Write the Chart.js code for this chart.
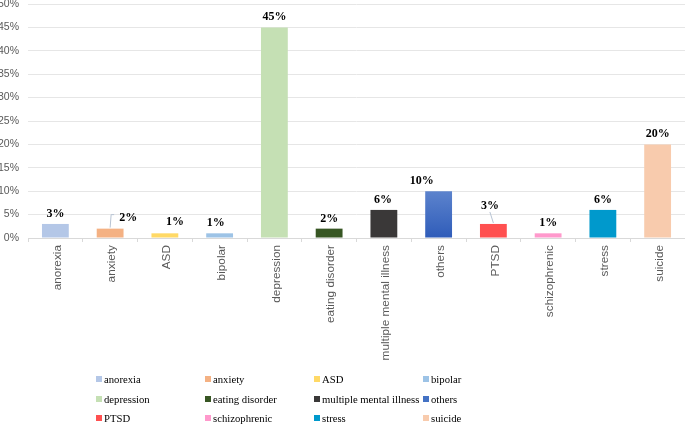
<!DOCTYPE html>
<html>
<head>
<meta charset="utf-8">
<script src="https://cdn.jsdelivr.net/npm/chart.js@4.4.1/dist/chart.umd.min.js"></script>
<style>
  body { margin: 0; background: #fff; }
  #wrap { position: relative; width: 685px; height: 425px; overflow: hidden; }
  #legend {
    position: absolute; left: 96px; top: 370px;
    display: grid; grid-template-columns: repeat(4, 109px);
    font: 10.7px "Liberation Serif", "Times New Roman", serif; color: #000;
  }
  #legend .item { height: 19.5px; line-height: 19.5px; white-space: nowrap; }
  #legend .box { display: inline-block; width: 6px; height: 6px; margin-right: 2px; vertical-align: 1px; }
</style>
</head>
<body>
<div id="wrap">
  <canvas id="barChart" width="685" height="425"></canvas>
  <div id="legend"></div>
</div>
<script>
const categories = ["anorexia", "anxiety", "ASD", "bipolar", "depression", "eating disorder",
  "multiple mental illness", "others", "PTSD", "schizophrenic", "stress", "suicide"];
const shares = [3, 2, 1, 1, 45, 2, 6, 10, 3, 1, 6, 20];
const yTicks = [0, 5, 10, 15, 20, 25, 30, 35, 40, 45, 50];

const barColors = ["#B4C7E7", "#F4B183", "#FFD966", "#9DC3E6", "#C5E0B4", "#375623",
  "#3A3838", "#4472C4", "#FF5050", "#FF99CC", "#0099CC", "#F8CBAD"];

// label nudges, like the hand-moved labels in the original
const labelShift = { 1: [18, -1], 2: [10, -1], 3: [-4, 0], 6: [-1, 0], 7: [-17, 0], 8: [-3.5, -8] };
const leaderLines = [1, 8];

const othersFill = (ctx) => {
  const chart = ctx.chart;
  const y = chart.scales.y;
  if (!chart.chartArea || !y) return barColors[7];
  const g = chart.ctx.createLinearGradient(0, y.getPixelForValue(ctx.raw), 0, y.getPixelForValue(0));
  g.addColorStop(0, "#5C83CD");
  g.addColorStop(1, "#2F5CB9");
  return g;
};

const valueLabels = {
  id: "valueLabels",
  afterDatasetsDraw(chart) {
    const ctx = chart.ctx;
    const bars = chart.getDatasetMeta(0).data;
    ctx.save();
    ctx.font = "bold 12px 'Liberation Serif', 'Times New Roman', serif";
    ctx.fillStyle = "#000";
    ctx.textAlign = "center";
    ctx.textBaseline = "middle";
    bars.forEach((bar, i) => {
      const [dx, dy] = labelShift[i] || [0, 0];
      const lx = bar.x + dx;
      const ly = bar.y - 10 + dy;
      if (leaderLines.includes(i)) {
        ctx.strokeStyle = "#B7C3D3";
        ctx.lineWidth = 1;
        ctx.beginPath();
        if (dx > 5) {
          ctx.moveTo(bar.x, bar.y - 1);
          ctx.lineTo(bar.x + 1, ly - 3);
          ctx.lineTo(bar.x + 4, ly - 3);
        } else {
          ctx.moveTo(lx, ly + 6);
          ctx.lineTo(bar.x, bar.y - 1);
        }
        ctx.stroke();
      }
      ctx.fillText(shares[i] + "%", lx, ly);
    });
    ctx.restore();
  }
};

const chart = new Chart(document.getElementById("barChart"), {
  type: "bar",
  data: {
    labels: categories,
    datasets: [{
      label: "share",
      data: shares,
      backgroundColor: (ctx) => ctx.dataIndex === 7 ? othersFill(ctx) : barColors[ctx.dataIndex],
      barPercentage: 0.49,
      categoryPercentage: 1
    }]
  },
  options: {
    responsive: false,
    animation: false,
    layout: { padding: 0 },
    plugins: { legend: { display: false }, tooltip: { enabled: false } },
    scales: {
      x: {
        grid: { drawOnChartArea: false, drawTicks: true, tickLength: 4, color: "#D9D9D9" },
        border: { color: "#D9D9D9" },
        ticks: {
          minRotation: 90, maxRotation: 90, autoSkip: false, padding: 3, labelOffset: 2,
          color: "#595959", font: { family: "'Liberation Sans', Arial, sans-serif", size: 11.8 }
        },
        afterFit: (scale) => { scale.height = 187; scale.paddingLeft = 0; scale.paddingRight = 0; }
      },
      y: {
        min: 0, max: 50,
        afterBuildTicks: (scale) => { scale.ticks = yTicks.map(v => ({ value: v })); },
        grid: { color: "#E6E6E6", drawTicks: false },
        border: { display: false },
        ticks: {
          padding: 9, color: "#595959",
          font: { family: "'Liberation Sans', Arial, sans-serif", size: 10.5 },
          callback: (v) => v + "%"
        },
        afterFit: (scale) => { scale.width = 28; scale.paddingTop = 4; }
      }
    }
  },
  plugins: [valueLabels]
});

const legend = document.getElementById("legend");
categories.forEach((name, i) => {
  const item = document.createElement("div");
  item.className = "item";
  const box = document.createElement("span");
  box.className = "box";
  box.style.background = barColors[i];
  item.append(box, document.createTextNode(name));
  legend.append(item);
});
</script>
</body>
</html>
